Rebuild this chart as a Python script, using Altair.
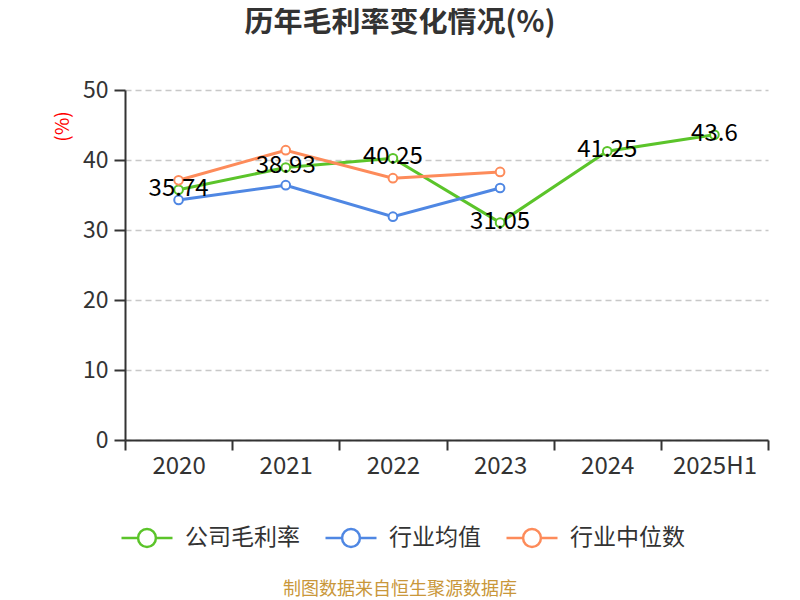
import altair as alt
import pandas as pd

years = ["2020", "2021", "2022", "2023", "2024", "2025H1"]
company = [35.74, 38.93, 40.25, 31.05, 41.25, 43.6]
ind_avg = [34.3, 36.4, 31.9, 36.0]
ind_med = [37.1, 41.4, 37.4, 38.3]
series = ["公司毛利率", "行业均值", "行业中位数"]
colors = ["#5bc42a", "#4f87e3", "#fd8b5a"]
title_text = "历年毛利率变化情况(%)"
footer_text = "制图数据来自恒生聚源数据库"

rows = []
for y, v in zip(years, company):
    rows.append({"year": y, "value": v, "series": series[0], "label": f"{v:g}"})
for y, v in zip(years, ind_avg):
    rows.append({"year": y, "value": v, "series": series[1], "label": ""})
for y, v in zip(years, ind_med):
    rows.append({"year": y, "value": v, "series": series[2], "label": ""})
df = pd.DataFrame(rows)

FONT = "Noto Sans CJK SC"
sym_path = "M-1,0H-0.35M0.35,0H1M0.35,0A0.35,0.35,0,1,1,-0.35,0A0.35,0.35,0,1,1,0.35,0"

x_enc = alt.X("year:N", sort=years, scale=alt.Scale(domain=years, paddingInner=0, paddingOuter=0),
              axis=alt.Axis(title=None, labelAngle=0, tickBand="extent", tickSize=10,
                            labelFontSize=24, labelColor="#333", labelPadding=4,
                            domainColor="#333", domainWidth=2, tickColor="#333", tickWidth=2,
                            labelFont=FONT))
y_enc = alt.Y("value:Q", scale=alt.Scale(domain=[0, 50]),
              axis=alt.Axis(values=[0, 10, 20, 30, 40, 50], title="(%)", titleColor="red",
                            titleFontSize=19, titleFontWeight="normal", titleX=-63, titleY=36,
                            titleAlign="center", titleBaseline="middle", titleFont=FONT,
                            labelFontSize=23, labelColor="#333", labelPadding=6, labelFont=FONT,
                            tickSize=11, tickColor="#333", tickWidth=2,
                            domainColor="#333", domainWidth=2,
                            grid=True, gridColor="#c8c8c8", gridDash=[6, 4], gridWidth=1.5))
color_enc = alt.Color("series:N", scale=alt.Scale(domain=series, range=colors),
                      legend=alt.Legend(title=None, orient="none", direction="horizontal",
                                        legendX=-5, legendY=421,
                                        symbolType=sym_path, symbolSize=2601,
                                        symbolStrokeWidth=2.5, symbolFillColor="white",
                                        labelFontSize=23, labelColor="#333", labelFont=FONT,
                                        labelOffset=11, columnPadding=20))

lines = alt.Chart(df).mark_line(strokeWidth=3).encode(x=x_enc, y=y_enc, color=color_enc)
points = alt.Chart(df).mark_circle(fill="white", size=75, strokeWidth=2, opacity=1, fillOpacity=1).encode(
    x=x_enc, y=y_enc, stroke=alt.Stroke("series:N", scale=alt.Scale(domain=series, range=colors), legend=None))
labels = alt.Chart(df[df["label"] != ""]).mark_text(fontSize=24, color="black", dy=-1, font=FONT,
                                                     baseline="middle").encode(
    x=x_enc, y=y_enc, text="label:N")
footer = alt.Chart(pd.DataFrame({"t": [footer_text]})).mark_text(
    fontSize=18, color="#c9973a", font=FONT, baseline="middle").encode(
    x=alt.value(275), y=alt.value(500), text="t:N")
title = alt.Chart(pd.DataFrame({"t": [title_text]})).mark_text(
    fontSize=29, fontWeight="bold", color="#333", font=FONT, baseline="middle").encode(
    x=alt.value(275), y=alt.value(-67), text="t:N")

chart = alt.layer(lines, points, labels, footer, title).properties(
    width=643, height=350,
    autosize=alt.AutoSizeParams(type="none"),
    padding={"left": 117, "top": 82, "right": 24, "bottom": 160},
).configure_view(stroke=None)

chart.save("out.html", embed_options={"renderer": "svg", "actions": False})
